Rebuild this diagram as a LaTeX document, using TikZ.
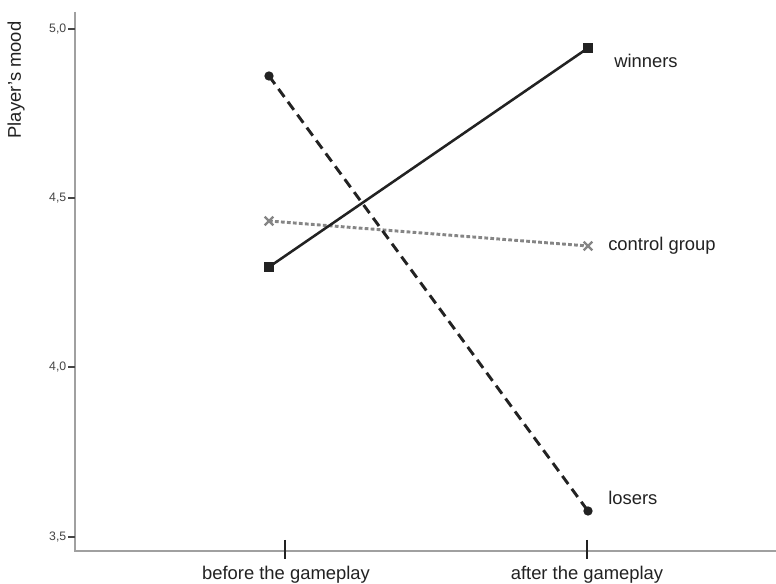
\documentclass[tikz,border=0pt]{standalone}
\usepackage{fontspec}
\setmainfont{Liberation Sans}
\usetikzlibrary{shapes.misc}
\definecolor{axisgray}{HTML}{A0A0A0}
\definecolor{ink}{HTML}{222222}
\definecolor{ctrl}{HTML}{858585}
\definecolor{ticktext}{HTML}{454545}
\tikzset{
  axisline/.style={draw=axisgray, line width=1.2pt},
  ticklab/.style={font=\fontsize{9.2}{10}\selectfont, text=ticktext, anchor=east, inner sep=0pt},
  lab/.style={font=\fontsize{13.8}{15}\selectfont, text=ink, inner sep=0pt},
  sqmark/.style={rectangle, fill=ink, minimum size=7pt, inner sep=0pt},
  dotmark/.style={circle, fill=ink, minimum size=7pt, inner sep=0pt},
  xmark/.style={cross out, draw=ctrl, line width=1.8pt, minimum size=4.6pt, inner sep=0pt},
  winline/.style={draw=ink, line width=1.9pt},
  loseline/.style={draw=ink, line width=2.2pt, dash pattern=on 7.5pt off 4.5pt},
  ctrlline/.style={draw=ctrl, line width=2.2pt, dash pattern=on 2.8pt off 1.7pt},
  cattick/.style={draw=ink, line width=1.1pt}
}
\begin{document}
\begin{tikzpicture}[x=0.75pt,y=-0.75pt]
\useasboundingbox[fill=white] (0,0) rectangle (776,584);

% axes
\coordinate (ytop) at (75,12);
\coordinate (origin) at (75,551);
\coordinate (xend) at (776,551);
\draw[axisline] (ytop) -- (origin) -- (xend);

% value ticks on the y axis
\foreach \v/\yy in {{5,0}/29, {4,5}/198, {4,0}/367, {3,5}/537}{
  \draw[draw=ticktext, line width=0.9pt] (68,\yy) -- (75,\yy);
  \node[ticklab] at (66.5,\yy) {\v};
}
\node[lab, rotate=90] (ylab) at (16,80) {Player's mood};

% category ticks and labels
\coordinate (tb1) at (285,540);
\coordinate (tb2) at (285,559);
\coordinate (ta1) at (587,540);
\coordinate (ta2) at (587,559);
\draw[cattick] (tb1) -- (tb2);
\draw[cattick] (ta1) -- (ta2);
\node[lab] (before) at (286,575) {before the gameplay};
\node[lab] (after) at (587,575) {after the gameplay};

% group means
\node[dotmark] (lb) at (269,76) {};
\node[dotmark] (la) at (588,511) {};
\node[sqmark] (wb) at (269,267) {};
\node[sqmark] (wa) at (588,48) {};
\node[xmark] (cb) at (269,221) {};
\node[xmark] (ca) at (588,246) {};

% profile lines
\draw[ctrlline] (cb.center) -- (ca.center);
\draw[loseline] (lb.center) -- (la.center);
\draw[winline] (wb.center) -- (wa.center);

% series labels
\node[lab, anchor=west] (winners) at (614,61) {winners};
\node[lab, anchor=west] (control) at (608,246) {control group};
\node[lab, anchor=west] (losers) at (608,498) {losers};
\end{tikzpicture}
\end{document}
